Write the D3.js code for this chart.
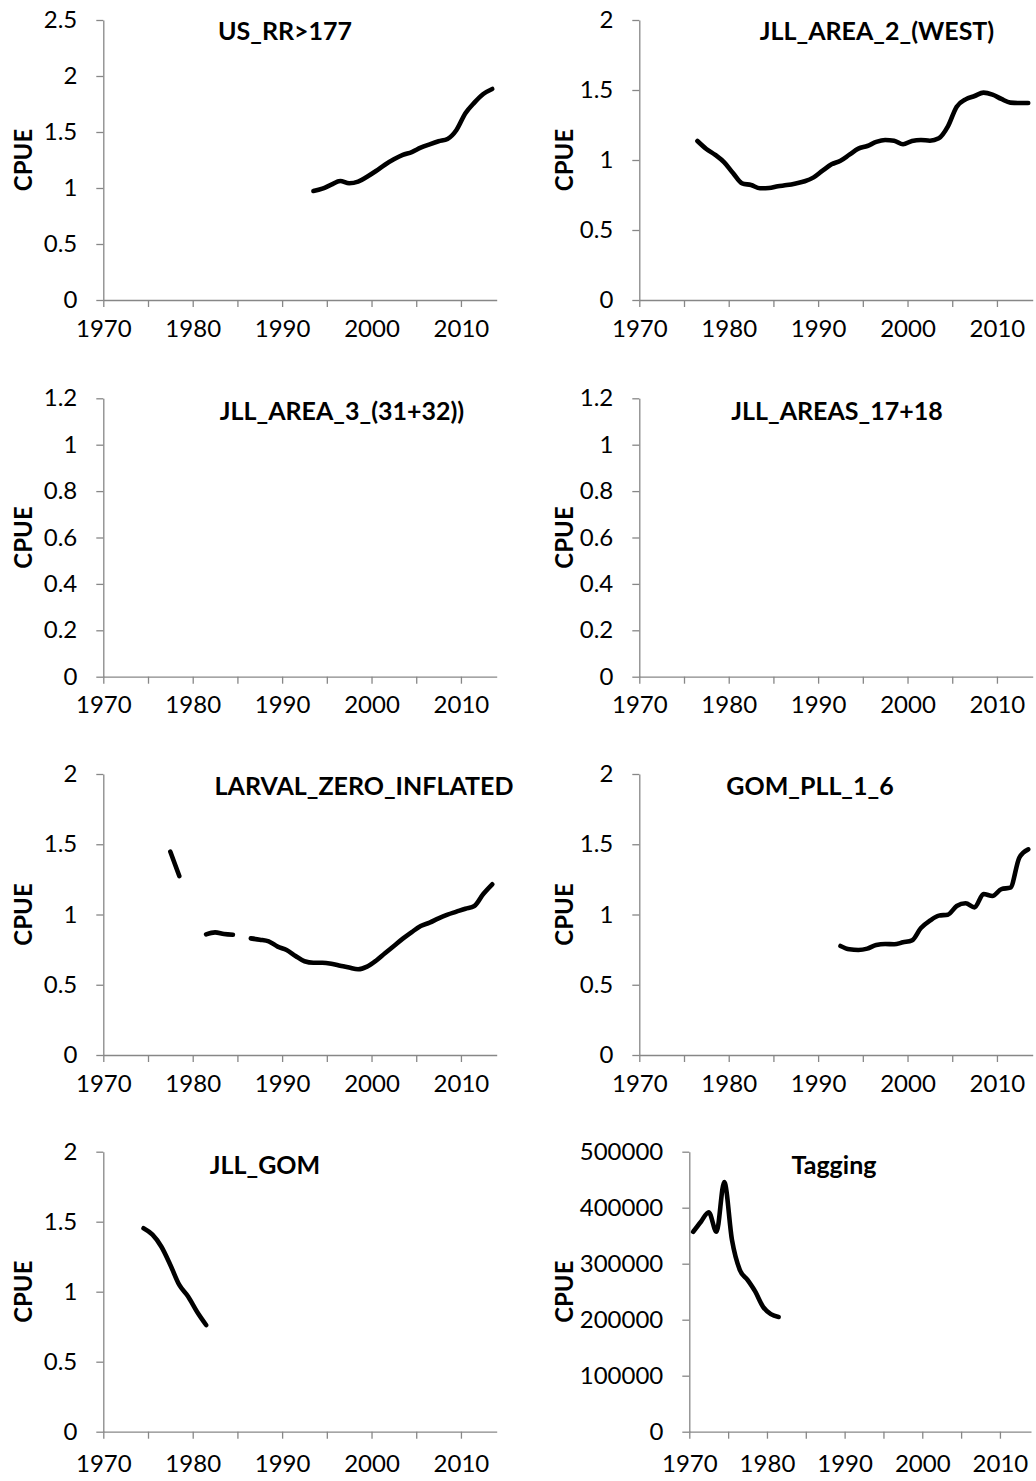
<!DOCTYPE html>
<html><head><meta charset="utf-8">
<script src="https://cdn.jsdelivr.net/npm/d3@7"></script>
<style>
html,body{margin:0;padding:0;background:#fff;}
svg{display:block;}
</style></head><body>
<svg id="chart" width="1036" height="1481"></svg>
<script>
// ---------- DATA ----------
const panelTitles = ["US_RR>177","JLL_AREA_2_(WEST)","JLL_AREA_3_(31+32))","JLL_AREAS_17+18","LARVAL_ZERO_INFLATED","GOM_PLL_1_6","JLL_GOM","Tagging"];
const yAxisLabel = "CPUE";
const xTickYears = [1970,1975,1980,1985,1990,1995,2000,2005,2010];
const xTickLabels = ["1970","","1980","","1990","","2000","","2010"];

const yTicks25 = [0,0.5,1,1.5,2,2.5];
const yTicks2 = [0,0.5,1,1.5,2];
const yTicks12 = [0,0.2,0.4,0.6,0.8,1,1.2];
const yTicksTag = [0,100000,200000,300000,400000,500000];

const usRrStart = 1993;
const usRrValues = [0.973,0.994,1.03,1.062,1.042,1.057,1.101,1.152,1.208,1.256,1.295,1.321,1.36,1.39,1.417,1.438,1.518,1.667,1.762,1.839,1.884];

const jllArea2Start = 1976;
const jllArea2Values = [1.136,1.079,1.036,0.983,0.905,0.833,0.821,0.798,0.8,0.812,0.821,0.833,0.848,0.876,0.924,0.969,0.995,1.038,1.081,1.1,1.129,1.143,1.138,1.112,1.136,1.143,1.138,1.155,1.238,1.381,1.433,1.457,1.481,1.467,1.436,1.41,1.407,1.407];

const jllArea3Start = 1970;
const jllArea3Values = [];

const jllAreas1718Start = 1970;
const jllAreas1718Values = [];

const larvalStart = 1977;
const larvalValues = [1.447,1.274,null,null,0.859,0.873,0.861,0.856,null,0.83,0.821,0.809,0.771,0.747,0.705,0.667,0.657,0.657,0.65,0.636,0.622,0.61,0.629,0.671,0.724,0.776,0.828,0.875,0.918,0.942,0.973,0.999,1.02,1.041,1.06,1.146,1.215];

const gomPllStart = 1992;
const gomPllValues = [0.776,0.752,0.747,0.757,0.783,0.79,0.788,0.802,0.816,0.904,0.956,0.992,0.999,1.06,1.08,1.051,1.146,1.132,1.181,1.191,1.404,1.464];

const jllGomStart = 1974;
const jllGomValues = [1.453,1.407,1.321,1.191,1.048,0.964,0.855,0.762];

const taggingStart = 1970;
const taggingValues = [357000,375000,392000,357000,446000,342000,289000,271000,250000,223000,210000,205000];

// ---------- LAYOUT ----------
const L = {x0:103.3, x1:496.7, lab:22};
const R = {x0:639.3, x1:1032.7, lab:563};
const rows = [{top:20,bot:300,lab:337},{top:398.3,bot:676.7,lab:713.5},{top:774,bot:1055,lab:1092},{top:1151.7,bot:1431.7,lab:1472}];

const panels = [
  {col:L,row:0,yMax:2.5,ticks:yTicks25,start:usRrStart,vals:usRrValues,tx:285,ty:30},
  {col:R,row:0,yMax:2,ticks:yTicks2,start:jllArea2Start,vals:jllArea2Values,tx:877,ty:30},
  {col:L,row:1,yMax:1.2,ticks:yTicks12,start:jllArea3Start,vals:jllArea3Values,tx:342,ty:410},
  {col:R,row:1,yMax:1.2,ticks:yTicks12,start:jllAreas1718Start,vals:jllAreas1718Values,tx:837,ty:410},
  {col:L,row:2,yMax:2,ticks:yTicks2,start:larvalStart,vals:larvalValues,tx:364,ty:785},
  {col:R,row:2,yMax:2,ticks:yTicks2,start:gomPllStart,vals:gomPllValues,tx:810,ty:785},
  {col:L,row:3,yMax:2,ticks:yTicks2,start:jllGomStart,vals:jllGomValues,tx:265,ty:1164},
  {col:{x0:689.3,x1:1031,lab:563},row:3,yMax:500000,ticks:yTicksTag,start:taggingStart,vals:taggingValues,tx:834,ty:1164}
];

const FONT = "Lato, 'Open Sans', sans-serif";
const AXIS = "#878787";
const svg = d3.select("#chart");

panels.forEach((p,i) => {
  const r = rows[p.row];
  const x = d3.scaleLinear().domain([1970,2014]).range([p.col.x0,p.col.x1]);
  const y = d3.scaleLinear().domain([0,p.yMax]).range([r.bot,r.top]);
  const g = svg.append("g");

  // y axis
  const ya = g.append("g").attr("transform",`translate(${p.col.x0},0)`)
    .call(d3.axisLeft(y).tickValues(p.ticks).tickSize(7).tickSizeOuter(0).tickPadding(19)
      .tickFormat(d => String(+d.toFixed(2))));
  // x axis
  const xa = g.append("g").attr("transform",`translate(0,${r.bot})`)
    .call(d3.axisBottom(x).tickValues(xTickYears).tickSize(7).tickSizeOuter(0)
      .tickFormat((d,k) => xTickLabels[k]));
  xa.selectAll(".tick text").attr("y", r.lab - r.bot).attr("dy", null);
  [ya,xa].forEach(a => {
    a.select(".domain").attr("stroke",AXIS).attr("stroke-width",1.3);
    a.selectAll(".tick line").attr("stroke",AXIS).attr("stroke-width",1.3);
    a.selectAll(".tick text").attr("fill","#000").attr("font-family",FONT).attr("font-size",24);
  });

  // y axis title
  g.append("text")
    .attr("transform",`translate(${p.col.lab},${(r.top+r.bot)/2}) rotate(-90)`)
    .attr("text-anchor","middle").attr("dominant-baseline","central")
    .attr("font-family",FONT).attr("font-weight","bold").attr("font-size",24)
    .text(yAxisLabel);

  // chart title
  g.append("text").attr("x",p.tx).attr("y",p.ty)
    .attr("text-anchor","middle").attr("dominant-baseline","central")
    .attr("font-family",FONT).attr("font-weight","bold").attr("font-size",25)
    .text(panelTitles[i]);

  // series line
  const data = p.vals.map((v,k) => ({year:p.start+k, v:v}));
  if (data.length) {
    const line = d3.line().defined(d => d.v != null)
      .x(d => x(d.year + 0.5)).y(d => y(d.v)).curve(d3.curveMonotoneX);
    g.append("path").datum(data).attr("d",line)
      .attr("fill","none").attr("stroke","#000").attr("stroke-width",4.6)
      .attr("stroke-linecap","round").attr("stroke-linejoin","round");
  }
});
</script>
</body></html>
